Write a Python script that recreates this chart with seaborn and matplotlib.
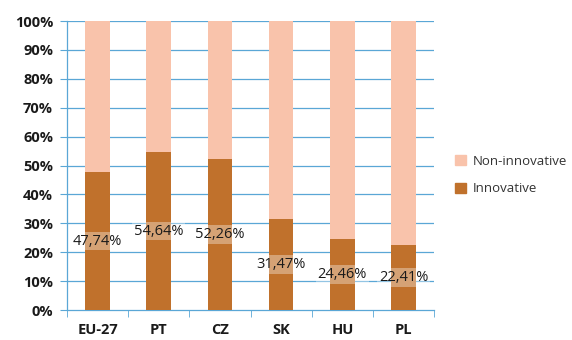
import matplotlib
matplotlib.use("Agg")
import matplotlib.pyplot as plt
import matplotlib.patches as mpatches
import numpy as np
import pandas as pd
import seaborn as sns

countries = ["EU-27", "PT", "CZ", "SK", "HU", "PL"]
innovative = [47.74, 54.64, 52.26, 31.47, 24.46, 22.41]
non_innovative = [52.26, 45.36, 47.74, 68.53, 75.54, 77.59]
y_ticks = [0, 10, 20, 30, 40, 50, 60, 70, 80, 90, 100]

df = pd.DataFrame({"country": countries,
                   "Innovative": innovative,
                   "Non-innovative": non_innovative})
df["total"] = df["Innovative"] + df["Non-innovative"]

sns.set_style("white")
plt.rcParams["font.family"] = ["Open Sans", "DejaVu Sans"]

c_inno = "#c0712c"
c_non = "#f9c3ab"
c_grid = "#5aa7d6"

fig = plt.figure(figsize=(5.72, 3.4), dpi=100)
ax = fig.add_axes([0.117, 0.088, 0.642, 0.85])

sns.barplot(data=df, x="country", y="total", color=c_non, width=0.4,
            saturation=1, ax=ax, zorder=3, edgecolor="none")
sns.barplot(data=df, x="country", y="Innovative", color=c_inno, width=0.4,
            saturation=1, ax=ax, zorder=4, edgecolor="none")

ax.set_xlim(-0.5, len(countries) - 0.5)
ax.set_ylim(0, 100)
ax.set_yticks(y_ticks)
ax.set_yticklabels([f"{t}%" for t in y_ticks], fontsize=10.5,
                   fontweight="bold", color="#1a1a1a")
ax.set_xticks(range(len(countries)))
ax.set_xticklabels(countries, fontsize=10.5, fontweight="bold", color="#1a1a1a")
ax.set_xlabel("")
ax.set_ylabel("")

# horizontal grid
for t in y_ticks[1:]:
    ax.axhline(t, color=c_grid, lw=0.9, zorder=1)

# spines
for s in ["top", "right"]:
    ax.spines[s].set_visible(False)
ax.spines["left"].set_color(c_grid)
ax.spines["bottom"].set_color(c_grid)
ax.spines["left"].set_linewidth(0.9)
ax.spines["bottom"].set_linewidth(0.9)

ax.tick_params(axis="y", which="major", length=5, color=c_grid, direction="out",
               left=True, pad=5)
ax.tick_params(axis="x", which="major", length=0, pad=9)
ax.set_xticks(np.arange(-0.5, len(countries), 1.0), minor=True)
ax.tick_params(axis="x", which="minor", length=5, color=c_grid, direction="out",
               bottom=True)

# value labels centred on the innovative segment
for i, v in enumerate(innovative):
    ax.text(i, v / 2, f"{v:.2f}%".replace(".", ","), ha="center", va="center",
            fontsize=10.5, color="#1a1a1a", zorder=6,
            bbox=dict(boxstyle="square,pad=0.12", fc="white", ec="none", alpha=0.35))

handles = [mpatches.Patch(color=c_non, label="Non-innovative"),
           mpatches.Patch(color=c_inno, label="Innovative")]
fig.legend(handles=handles, loc="center left", bbox_to_anchor=(0.775, 0.485),
           frameon=False, fontsize=9.5, handlelength=0.8, handleheight=0.8,
           handletextpad=0.5, labelspacing=1.1, labelcolor="#333333")

fig.savefig("out.png", dpi=100)
